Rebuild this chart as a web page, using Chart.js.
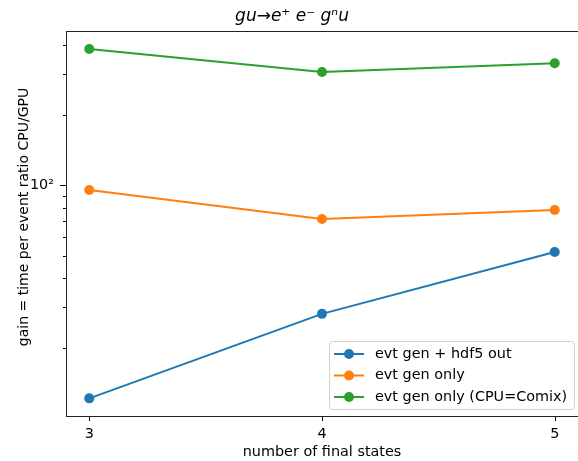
<!DOCTYPE html>
<html>
<head>
<meta charset="utf-8">
<script src="https://cdn.jsdelivr.net/npm/chart.js@4/dist/chart.umd.min.js"></script>
<style>
  html, body { margin: 0; padding: 0; background: #fff; }
  #wrap { width: 578px; height: 461px; }
</style>
</head>
<body>
<div id="wrap"><canvas id="gainChart" width="578" height="461"></canvas></div>
<script>
// number of final states
const finalStates = [3, 4, 5];
// gain = CPU/GPU time per event
const hdf5Out = [12.2, 28.1, 51.8];
const genOnly = [95.5, 71.7, 78.4];
const genOnlyComix = [384, 306, 334];

const seriesNames = ["evt gen + hdf5 out", "evt gen only", "evt gen only (CPU=Comix)"];
const seriesColors = ["#1f77b4", "#ff7f0e", "#2ca02c"];

const xTicks = [3, 4, 5];
const yMajorTicks = [100];
const yMinorTicks = [20, 30, 40, 50, 60, 70, 80, 90, 200, 300, 400];

const FONT = "'DejaVu Sans', sans-serif";
const FS = 14.4;
const MARKER = 5;

function toPoints(ys) {
    return finalStates.map((x, i) => ({ x: x, y: ys[i] }));
}

// frame, tick marks, x tick labels, axis titles, title and legend
const decorations = {
    id: "decorations",
    afterDraw(chart) {
        const ctx = chart.ctx;
        const area = chart.chartArea;
        const xs = chart.scales.x;
        const ys = chart.scales.y;
        ctx.save();

        // tick marks
        ctx.strokeStyle = "#000";
        ctx.lineWidth = 1;
        ctx.beginPath();
        xTicks.forEach(v => {
            let px = Math.round(xs.getPixelForValue(v)) + 0.5;
            ctx.moveTo(px, area.bottom);
            ctx.lineTo(px, area.bottom + 5);
        });
        yMajorTicks.forEach(v => {
            let py = Math.round(ys.getPixelForValue(v)) + 0.5;
            ctx.moveTo(area.left, py);
            ctx.lineTo(area.left - 6, py);
        });
        yMinorTicks.forEach(v => {
            let py = Math.round(ys.getPixelForValue(v)) + 0.5;
            ctx.moveTo(area.left, py);
            ctx.lineTo(area.left - 3, py);
        });
        ctx.stroke();

        // frame
        ctx.strokeStyle = "#222";
        ctx.strokeRect(Math.round(area.left) + 0.5, Math.round(area.top) + 0.5,
            Math.round(area.right - area.left), Math.round(area.bottom - area.top));

        // x tick labels
        ctx.fillStyle = "#000";
        ctx.textAlign = "center";
        ctx.textBaseline = "middle";
        ctx.font = FS + "px " + FONT;
        xTicks.forEach(v => {
            ctx.fillText(String(v), xs.getPixelForValue(v), 434);
        });

        // title
        ctx.font = "italic 17px " + FONT;
        ctx.fillText("gu\u2192e\u207A e\u207B g\u207Fu", 292, 17);

        // axis titles
        ctx.font = FS + "px " + FONT;
        ctx.fillText("number of final states", (area.left + area.right) / 2, 452);
        ctx.save();
        ctx.translate(24, 217);
        ctx.rotate(-Math.PI / 2);
        ctx.font = "14px " + FONT;
        ctx.fillText("gain = time per event ratio CPU/GPU", 0, 0);
        ctx.restore();

        // legend
        const box = { x: 329.5, y: 341.5, w: 245, h: 68 };
        ctx.fillStyle = "rgba(255,255,255,0.8)";
        ctx.strokeStyle = "#d0d0d0";
        ctx.beginPath();
        ctx.roundRect(box.x, box.y, box.w, box.h, 3);
        ctx.fill();
        ctx.stroke();

        ctx.textAlign = "left";
        seriesNames.forEach((name, i) => {
            let ry = 354 + i * 21.5;
            ctx.strokeStyle = seriesColors[i];
            ctx.lineWidth = 2;
            ctx.beginPath();
            ctx.moveTo(334, ry);
            ctx.lineTo(364, ry);
            ctx.stroke();
            ctx.fillStyle = seriesColors[i];
            ctx.beginPath();
            ctx.arc(349, ry, MARKER, 0, Math.PI * 2);
            ctx.fill();
            ctx.fillStyle = "#000";
            ctx.fillText(name, 375, ry);
        });

        ctx.restore();
    }
};

const datasets = [hdf5Out, genOnly, genOnlyComix].map((vals, i) => ({
    label: seriesNames[i],
    data: toPoints(vals),
    borderColor: seriesColors[i],
    backgroundColor: seriesColors[i],
    borderWidth: 2,
    pointRadius: MARKER,
    pointHoverRadius: MARKER,
    pointBorderWidth: 0,
    tension: 0
}));

new Chart(document.getElementById("gainChart").getContext("2d"), {
    type: "line",
    data: { datasets: datasets },
    options: {
        responsive: false,
        animation: false,
        layout: {
            autoPadding: false,
            padding: { top: 31, left: 0, right: 0, bottom: 0 }
        },
        plugins: {
            legend: { display: false },
            title: { display: false },
            tooltip: { enabled: false }
        },
        scales: {
            x: {
                type: "linear",
                min: 2.9,
                max: 5.1,
                grid: { display: false, drawTicks: false },
                border: { display: false },
                afterBuildTicks: scale => { scale.ticks = xTicks.map(v => ({ value: v })); },
                afterFit: scale => {
                    scale.height = 45;
                    scale.paddingLeft = 0;
                    scale.paddingRight = 0;
                },
                ticks: { display: false }
            },
            y: {
                type: "logarithmic",
                min: 10.25,
                max: 459,
                grid: { display: false, drawTicks: false },
                border: { display: false },
                afterBuildTicks: scale => {
                    scale.ticks = yMajorTicks.concat(yMinorTicks).map(v => ({ value: v }));
                },
                afterFit: scale => {
                    scale.width = 66;
                    scale.paddingTop = 0;
                    scale.paddingBottom = 0;
                },
                ticks: {
                    padding: 12,
                    autoSkip: false,
                    color: "#000",
                    font: { family: FONT, size: FS },
                    callback: v => (v === 100 ? "10\u00B2" : "")
                }
            }
        }
    },
    plugins: [decorations]
});
</script>
</body>
</html>
